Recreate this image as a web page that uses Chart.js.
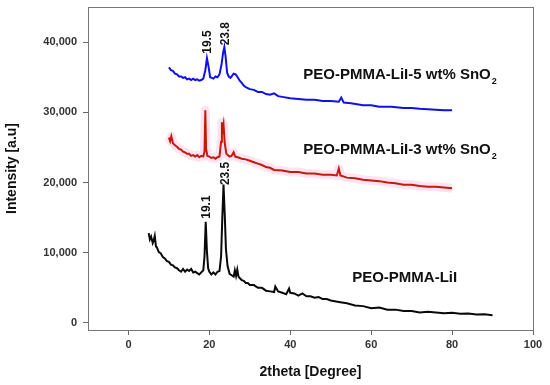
<!DOCTYPE html>
<html>
<head>
<meta charset="utf-8">
<script src="https://cdn.jsdelivr.net/npm/chart.js@4"></script>
<style>
  html, body { margin: 0; padding: 0; background: #fff; }
  #wrap { width: 550px; height: 385px; position: relative; }
</style>
</head>
<body>
<div id="wrap"><canvas id="xrd"></canvas></div>
<script>
// XRD patterns, 2theta in degrees vs intensity
const xTicks = [0, 20, 40, 60, 80, 100];
const yTicks = [0, 10000, 20000, 30000, 40000];

const lilX = [5, 5.3, 5.6, 6, 6.3, 6.5, 6.8, 7, 7.5, 8, 8.5, 9, 9.5, 10, 10.5, 11, 11.5, 12, 12.5, 13, 13.5, 14, 14.5, 15, 15.5, 16, 16.5, 17, 17.5, 18, 18.5, 18.8, 19.1, 19.4, 19.7, 20, 20.5, 21, 21.5, 22, 22.5, 22.9, 23.2, 23.5, 23.8, 24.1, 24.5, 25, 25.5, 26, 26.3, 26.6, 26.9, 27.2, 27.5, 28, 28.5, 29, 29.5, 30, 31, 32, 33, 34, 35, 36, 36.3, 37, 38, 39, 39.7, 40, 41, 42, 43, 44, 45, 46, 47, 48, 49, 50, 52, 54, 56, 58, 60, 62, 64, 66, 68, 70, 72, 74, 76, 78, 80, 82, 84, 86, 88, 90];
const lilY = [12800, 11900, 12300, 11400, 11900, 12400, 10900, 10800, 10100, 9900, 9400, 9200, 8800, 8700, 8300, 8200, 7900, 7800, 7500, 7300, 7700, 7300, 7600, 7400, 7700, 7200, 7300, 7100, 6900, 7200, 7500, 9500, 14400, 10200, 7800, 7300, 6900, 7200, 6900, 7300, 7400, 9500, 15000, 19700, 15500, 10500, 8100, 7000, 6800, 6600, 7500, 6700, 7600, 6600, 6400, 6100, 6000, 5700, 5700, 5400, 5400, 5000, 5000, 4600, 4500, 4400, 5200, 4500, 4300, 4100, 4900, 4300, 4200, 3900, 4200, 3800, 3800, 3600, 3700, 3400, 3400, 3200, 3000, 2800, 2500, 2400, 2100, 2200, 1900, 1900, 1700, 1700, 1500, 1600, 1500, 1400, 1450, 1300, 1350, 1200, 1250, 1100];

const sn3X = [10, 10.3, 10.6, 11, 11.5, 12, 12.5, 13, 13.5, 14, 14.5, 15, 15.5, 16, 16.5, 17, 17.5, 18, 18.5, 18.8, 19.0, 19.2, 19.5, 20, 20.5, 21, 21.5, 22, 22.5, 22.9, 23.1, 23.3, 23.5, 23.8, 24.2, 24.6, 25, 25.5, 26, 26.4, 27, 28, 29, 30, 31, 32, 33, 34, 35, 36, 38, 40, 42, 44, 46, 48, 50, 51.5, 52, 52.4, 54, 56, 58, 60, 62, 64, 66, 68, 70, 72, 74, 76, 78, 80];
const sn3Y = [26400, 25900, 26600, 25600, 25300, 25100, 24800, 24700, 24400, 24300, 24100, 24100, 23800, 23900, 23700, 23900, 23600, 23800, 23700, 24400, 30300, 24800, 23800, 23700, 23500, 23600, 23400, 23600, 23700, 25800, 28600, 27600, 28300, 25600, 24100, 23900, 23700, 23800, 24300, 23700, 23600, 23400, 23300, 23100, 22900, 22700, 22500, 22200, 22100, 21800, 21700, 21500, 21500, 21300, 21300, 21100, 21100, 21000, 22000, 21000, 20700, 20600, 20400, 20300, 20200, 20000, 19900, 19700, 19700, 19500, 19400, 19400, 19300, 19200];

const sn5X = [10, 10.5, 11, 11.5, 12, 12.5, 13, 13.5, 14, 14.5, 15, 15.5, 16, 16.5, 17, 17.5, 18, 18.5, 19, 19.4, 19.8, 20.2, 20.6, 21, 21.5, 22, 22.5, 23, 23.4, 23.7, 24, 24.4, 24.8, 25.2, 25.6, 26, 26.5, 27, 27.5, 28, 28.5, 29, 30, 31, 32, 33, 34, 35, 36, 37, 38, 40, 42, 44, 46, 48, 50, 52, 52.6, 53.2, 55, 58, 60, 62, 65, 68, 70, 72, 75, 78, 80];
const sn5Y = [36400, 36000, 35900, 35500, 35400, 35100, 35100, 34900, 35000, 34700, 34800, 34600, 34800, 34600, 34700, 34500, 34600, 34800, 36000, 37700, 36500, 35000, 34900, 34800, 35100, 35000, 35400, 36800, 38500, 39300, 38000, 35600, 35100, 34900, 35200, 35500, 35400, 35000, 34500, 34200, 33800, 33600, 33300, 33200, 32900, 32900, 32600, 32500, 32700, 32300, 32200, 32000, 31900, 31800, 31800, 31600, 31600, 31500, 32100, 31400, 31300, 31000, 31000, 30800, 30800, 30600, 30600, 30500, 30400, 30300, 30300];

// peak labels (rotated) and curve names, anchored in data coordinates
const peakText = ['19.5', '23.8', '19.1', '23.5'];
const peakAtX = [19.7, 24.0, 19.4, 24.0];
const peakAtY = [40000, 41200, 16500, 21300];

const nameText = ['PEO-PMMA-LiI-5 wt% SnO', 'PEO-PMMA-LiI-3 wt% SnO', 'PEO-PMMA-LiI'];
const nameSub = ['2', '2', ''];
const nameAtX = [43.2, 43.2, 55.3];
const nameAtY = [35300, 24600, 6400];

const pts = (xs, ys) => xs.map((x, i) => ({ x, y: ys[i] }));

const frame = {
  id: 'frame',
  afterDraw(chart) {
    const { ctx, chartArea: a, scales } = chart;
    ctx.save();
    ctx.strokeStyle = '#777';
    ctx.lineWidth = 1;
    ctx.strokeRect(a.left + 0.5, a.top + 0.5, a.right - a.left, a.bottom - a.top);

    ctx.fillStyle = '#111';
    ctx.font = 'bold 12px "Liberation Sans", Arial, sans-serif';
    ctx.textAlign = 'center';
    ctx.textBaseline = 'middle';
    peakText.forEach((t, i) => {
      ctx.save();
      ctx.translate(scales.x.getPixelForValue(peakAtX[i]), scales.y.getPixelForValue(peakAtY[i]));
      ctx.rotate(-Math.PI / 2);
      ctx.fillText(t, 0, 0);
      ctx.restore();
    });

    ctx.textAlign = 'left';
    nameText.forEach((t, i) => {
      const px = scales.x.getPixelForValue(nameAtX[i]);
      const py = scales.y.getPixelForValue(nameAtY[i]);
      ctx.font = 'bold 15px "Liberation Sans", Arial, sans-serif';
      ctx.fillText(t, px, py);
      if (nameSub[i]) {
        const w = ctx.measureText(t).width;
        ctx.font = 'bold 9px "Liberation Sans", Arial, sans-serif';
        ctx.fillText(nameSub[i], px + w + 1, py + 6);
      }
    });
    ctx.restore();
  }
};

const tickFont = { family: '"Liberation Sans", Arial, sans-serif', size: 11, weight: 'bold' };
const titleFont = { family: '"Liberation Sans", Arial, sans-serif', size: 14, weight: 'bold' };

new Chart(document.getElementById('xrd'), {
  type: 'line',
  data: {
    datasets: [
      { data: pts(sn5X, sn5Y), borderColor: '#1010e8', borderWidth: 2, pointRadius: 0, tension: 0, order: 1 },
      { data: pts(sn3X, sn3Y), borderColor: '#c41a0a', borderWidth: 2, pointRadius: 0, tension: 0, order: 1 },
      { data: pts(lilX, lilY), borderColor: '#0a0a0a', borderWidth: 2, pointRadius: 0, tension: 0, order: 1 },
      // faint pink highlight behind the 3 wt% trace
      { data: pts(sn3X, sn3Y), borderColor: 'rgba(255, 175, 220, 0.35)', borderWidth: 9, borderJoinStyle: 'round', pointRadius: 0, tension: 0, order: 5 },
    ],
  },
  options: {
    responsive: true,
    maintainAspectRatio: false,
    animation: false,
    events: [],
    layout: { padding: { left: 0, right: 17, top: 7, bottom: 0 } },
    plugins: { legend: { display: false }, tooltip: { enabled: false } },
    scales: {
      x: {
        type: 'linear',
        min: -10,
        max: 100,
        afterBuildTicks: s => { s.ticks = xTicks.map(v => ({ value: v })); },
        afterFit: s => { s.height = 55; s.paddingLeft = 0; s.paddingRight = 0; },
        ticks: { color: '#333', font: tickFont, padding: 3, maxRotation: 0 },
        grid: { drawOnChartArea: false, tickLength: 5, color: '#666' },
        border: { color: '#777' },
        title: { display: true, text: '2theta [Degree]', color: '#111', font: titleFont, padding: { top: 8 } },
      },
      y: {
        min: -1000,
        max: 45000,
        afterBuildTicks: s => { s.ticks = yTicks.map(v => ({ value: v })); },
        afterFit: s => { s.width = 88; s.paddingTop = 0; s.paddingBottom = 0; },
        ticks: { color: '#333', font: tickFont, padding: 6, callback: v => v.toLocaleString('en-US') },
        grid: { drawOnChartArea: false, tickLength: 5, color: '#666' },
        border: { color: '#777' },
        title: { display: true, text: 'Intensity [a.u]', color: '#111', font: titleFont },
      },
    },
  },
  plugins: [frame],
});
</script>
</body>
</html>
